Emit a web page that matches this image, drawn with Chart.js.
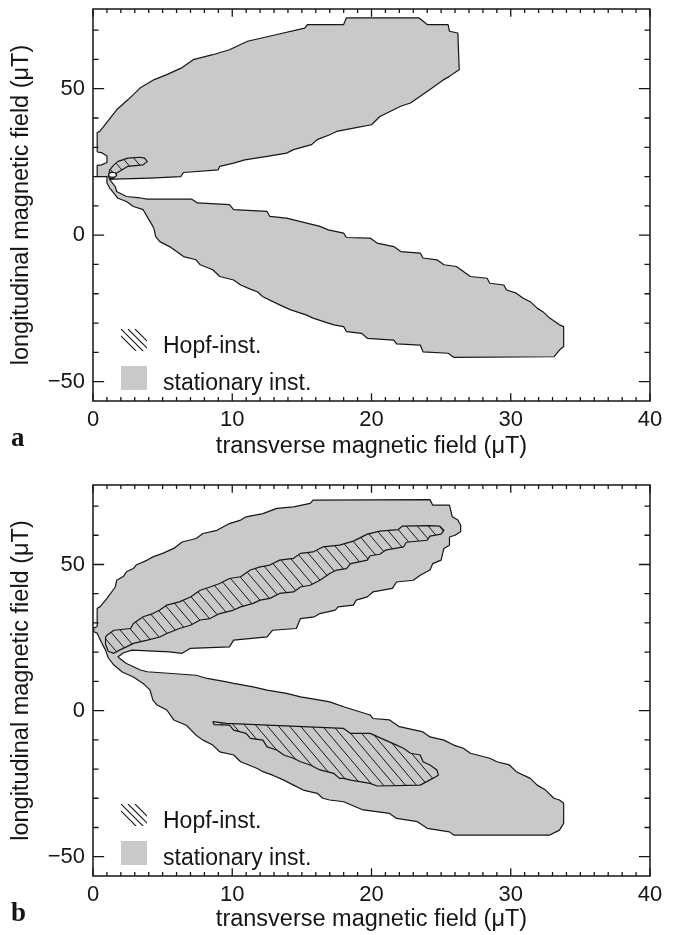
<!DOCTYPE html>
<html>
<head>
<meta charset="utf-8">
<script src="https://cdn.jsdelivr.net/npm/chart.js@4.4.1/dist/chart.umd.min.js"></script>
<style>
  html, body { margin: 0; padding: 0; background: #fff; overflow: hidden; }
  #wrap { position: relative; width: 677px; height: 935px; }
  canvas { position: absolute; left: 0; }
  #panelA { top: 0; }
  #panelB { top: 462px; }
</style>
</head>
<body>
<div id="wrap">
  <canvas id="panelA" width="677" height="462"></canvas>
  <canvas id="panelB" width="677" height="473"></canvas>
</div>
<script>
// axes
const xTicks = [0, 10, 20, 30, 40];
const yTicks = [-50, 0, 50];
const xRange = [0, 40];
const yRange = [-56.6, 77.2];
const xMinorStep = 1;
const yMinorStep = 10;

const xTitle = 'transverse magnetic field (μT)';
const yTitle = 'longitudinal magnetic field (μT)';
const legendLabels = ['Hopf-inst.', 'stationary inst.'];

// panel a : [transverse, longitudinal] outlines
const stationaryA = [
  [0.3,28.4],[0.3,35.0],[0.5,35.5],[1.7,42.8],[2.5,46.2],[3.4,50.3],[4.4,53.1],[5.3,54.8],[6.4,57.2],[7.2,59.9],
  [8.6,61.6],[9.8,63.3],[11.1,66.2],[13.2,68.5],[15.2,70.7],[15.4,71.9],[18.0,71.9],[18.2,74.2],[23.4,74.2],[24.0,71.9],
  [25.5,71.9],[25.6,69.6],[26.2,69.0],[26.3,56.5],[26.1,55.9],[25.6,54.2],[25.2,53.1],[24.2,49.7],[23.5,47.4],[22.8,45.1],
  [22.1,44.0],[20.6,40.5],[20.0,37.7],[18.8,36.6],[17.5,35.4],[17.0,34.3],[16.1,32.6],[15.7,30.9],[14.4,29.2],[13.9,28.0],
  [12.5,26.9],[10.9,25.7],[10.1,24.6],[9.1,23.5],[9.0,22.3],[6.5,21.4],[6.3,20.0],[4.1,19.5],[1.5,19.1],[1.2,19.0],
  [1.6,16.6],[1.7,14.9],[1.9,14.4],[2.4,13.2],[3.4,12.7],[3.9,12.3],[7.1,12.3],[7.5,11.0],[9.8,10.4],[10.1,8.7],
  [12.5,8.1],[12.7,6.4],[13.9,5.8],[16.3,3.0],[16.9,1.8],[18.0,0.7],[18.2,-0.8],[19.9,-1.0],[20.4,-2.7],[21.6,-3.9],
  [22.1,-5.6],[23.5,-6.1],[23.7,-7.8],[24.7,-8.4],[25.2,-10.1],[26.1,-10.7],[26.6,-12.4],[27.1,-14.1],[28.3,-14.7],[28.5,-16.4],
  [29.5,-17.0],[29.7,-18.7],[30.4,-19.8],[30.9,-21.5],[31.4,-22.7],[31.9,-24.9],[32.3,-26.1],[32.8,-28.3],[33.5,-30.6],[33.8,-31.2],
  [33.8,-38.0],[33.5,-39.2],[33.1,-41.5],[25.9,-41.7],[25.5,-40.3],[23.7,-39.8],[23.5,-37.5],[21.8,-37.1],[21.6,-35.8],[19.7,-35.2],
  [19.3,-33.5],[18.2,-32.9],[18.0,-31.2],[17.3,-30.6],[16.9,-30.0],[15.8,-28.3],[15.3,-27.2],[14.2,-25.5],[13.4,-23.8],[12.2,-21.0],
  [11.8,-19.3],[11.3,-18.4],[10.6,-17.0],[10.1,-15.3],[9.1,-14.1],[8.6,-11.8],[7.7,-10.1],[7.4,-8.4],[6.5,-7.3],[5.5,-3.9],
  [4.8,-2.2],[4.5,-0.5],[4.4,1.8],[4.3,3.0],[3.6,8.7],[2.9,9.8],[2.4,11.5],[1.8,12.6],[1.3,15.5],[1.2,16.1],
  [1.0,17.8],[1.0,20.0],[0.3,20.0],[0.3,23.8],[0.6,24.0],[1.0,24.8],[1.0,27.0],[0.6,28.2]
];
const hopfA = [
  [1.1,20.0],[1.2,22.3],[1.5,24.0],[1.8,25.2],[2.5,26.3],[3.4,26.6],[3.7,26.3],[3.9,25.2],[3.6,24.0],[2.5,23.5],
  [2.1,22.3],[1.7,21.2],[1.5,19.5],[1.2,19.3]
];
const holeA = [[1.1,20.6],[1.3,21.5],[1.6,21.3],[1.7,20.4],[1.5,19.7],[1.2,19.9]];

// panel b
const stationaryB = [
  [0.3,28.7],[0.3,35.0],[0.5,35.5],[1.0,38.4],[1.6,42.3],[1.7,44.6],[2.2,46.0],[2.4,47.5],[2.9,48.6],[3.1,49.8],
  [3.9,51.5],[4.3,52.6],[5.0,53.8],[5.8,55.5],[6.4,57.7],[7.4,58.9],[7.9,60.6],[8.9,61.7],[9.8,64.0],[10.6,65.2],
  [11.0,66.3],[12.2,67.4],[13.2,69.2],[14.4,69.7],[15.6,70.9],[15.8,72.0],[24.2,72.2],[24.4,70.3],[25.6,70.3],[25.8,66.3],
  [26.2,65.2],[26.4,63.4],[26.4,61.2],[26.0,60.0],[25.6,59.4],[25.6,56.6],[25.2,55.5],[25.0,51.5],[24.4,50.3],[24.2,48.1],
  [23.5,46.3],[23.0,44.6],[21.8,44.0],[21.5,41.8],[20.1,40.6],[19.7,38.9],[18.9,37.8],[18.7,36.1],[17.6,35.5],[17.4,34.4],
  [16.3,33.2],[15.9,32.1],[14.9,31.5],[14.6,28.1],[12.9,27.5],[12.5,25.2],[10.1,24.1],[9.8,21.8],[7.0,21.3],[6.4,19.6],
  [5.5,20.1],[2.8,20.7],[2.2,19.8],[1.8,18.4],[1.9,17.9],[2.4,16.1],[3.4,13.9],[3.9,13.3],[7.4,12.1],[8.2,11.0],
  [9.6,9.8],[10.1,9.3],[11.5,8.1],[12.5,7.0],[13.9,5.9],[14.9,4.7],[16.3,3.6],[17.0,3.0],[18.0,1.3],[19.9,-1.5],
  [20.1,-2.7],[21.3,-3.2],[22.0,-5.5],[23.7,-7.3],[24.2,-9.0],[25.2,-10.1],[25.9,-11.8],[26.6,-12.9],[27.1,-14.6],[28.5,-16.3],
  [29.0,-17.5],[29.9,-18.6],[30.4,-20.9],[31.4,-23.2],[31.9,-25.5],[32.5,-27.2],[33.1,-30.0],[33.5,-30.6],[33.8,-31.7],[33.8,-38.6],
  [33.5,-40.9],[32.8,-42.6],[25.9,-42.6],[25.6,-41.5],[24.0,-40.3],[23.3,-38.0],[21.8,-36.9],[21.3,-35.2],[19.4,-34.0],[18.0,-31.2],
  [17.0,-30.6],[16.5,-30.0],[16.1,-28.3],[15.1,-27.2],[14.4,-25.5],[13.7,-23.8],[12.9,-22.1],[12.2,-20.9],[11.8,-19.8],[10.6,-17.5],
  [10.1,-15.2],[9.1,-14.1],[8.6,-11.8],[7.9,-10.1],[7.4,-8.4],[6.7,-5.0],[5.8,-3.2],[5.3,0.2],[4.6,1.9],[4.3,3.6],
  [4.1,7.0],[3.6,9.3],[2.9,11.5],[2.1,13.2],[1.5,15.6],[1.1,18.0],[0.9,20.7],[0.6,23.4],[0.3,26.5],[0.05,27.0],
  [0.05,28.3]
];
const hopfB1 = [
  [1.0,25.8],[1.5,27.5],[2.7,28.1],[2.9,29.8],[3.6,32.1],[4.3,33.2],[4.8,34.4],[5.3,36.1],[6.2,37.2],[7.0,38.9],
  [7.7,41.2],[8.4,42.3],[9.1,43.5],[9.8,45.2],[10.6,45.8],[11.3,48.1],[12.0,49.2],[12.7,49.8],[13.4,51.5],[14.4,52.1],
  [14.9,53.8],[15.8,54.3],[16.5,56.0],[17.7,56.6],[18.7,58.0],[19.7,60.4],[20.6,61.4],[21.9,61.9],[22.2,63.1],[24.2,63.3],
  [24.9,63.1],[25.2,61.7],[25.0,60.4],[24.2,59.7],[24.0,58.3],[22.5,57.6],[22.3,56.0],[21.0,54.9],[20.6,53.5],[19.9,53.0],
  [19.7,51.5],[18.5,50.3],[18.2,48.6],[17.5,48.1],[17.0,46.9],[16.3,44.6],[15.6,42.9],[14.9,42.3],[14.4,40.6],[13.4,40.1],
  [12.7,38.4],[12.0,37.8],[11.5,36.7],[10.6,35.5],[10.1,34.4],[9.1,33.2],[8.4,31.5],[7.7,31.0],[7.0,29.2],[6.2,28.1],
  [5.3,26.4],[4.8,25.2],[3.9,24.1],[2.9,23.0],[2.4,21.8],[1.9,20.7],[1.5,19.6],[1.1,20.3],[0.9,22.7],[0.9,25.1]
];
const hopfB2 = [
  [8.6,-3.8],[9.6,-4.4],[18.0,-6.1],[18.5,-7.8],[19.9,-7.8],[21.8,-11.8],[22.3,-12.9],[22.8,-14.6],[23.5,-15.2],[23.7,-17.5],
  [24.2,-18.6],[24.7,-20.3],[24.8,-22.1],[24.4,-23.2],[23.5,-25.5],[20.4,-25.8],[19.9,-24.9],[18.5,-23.8],[18.0,-23.2],[17.7,-23.2],
  [17.3,-21.5],[16.3,-20.3],[15.6,-18.6],[14.9,-17.5],[14.4,-16.3],[13.7,-15.2],[13.2,-13.5],[12.5,-12.4],[12.2,-10.1],[11.3,-9.5],
  [11.0,-7.8],[10.1,-6.7],[9.8,-5.0],[8.7,-4.8]
];

const INK = '#161616';
const GRAY = '#c8c9cb';
const FONT = '"Liberation Sans", Arial, Helvetica, sans-serif';

function hatch(ctx) {
  const w = 11, h = 13;
  const tile = document.createElement('canvas');
  tile.width = w;
  tile.height = h;
  const g = tile.getContext('2d');
  g.strokeStyle = INK;
  g.lineWidth = 1;
  g.beginPath();
  g.moveTo(0, 0); g.lineTo(w, h);
  g.moveTo(-w, 0); g.lineTo(0, h);
  g.moveTo(w, 0); g.lineTo(2 * w, h);
  g.stroke();
  return ctx.createPattern(tile, 'repeat');
}

function region(points, label, fill, order) {
  const data = points.map(([x, y]) => ({ x, y }));
  data.push({ x: points[0][0], y: points[0][1] });
  return {
    label, data, order,
    showLine: true,
    fill: 'shape',
    backgroundColor: fill,
    borderColor: INK,
    borderWidth: 1.2,
    borderJoinStyle: 'round',
    pointRadius: 0,
    pointHoverRadius: 0,
    tension: 0
  };
}

// frame with inward ticks, panel letter, legend
const framePlugin = {
  id: 'frame',
  afterDraw(chart, args, opts) {
    const { ctx, chartArea: a, scales: { x, y } } = chart;
    ctx.save();
    ctx.strokeStyle = INK;
    ctx.lineWidth = 1.5;
    ctx.strokeRect(a.left, a.top, a.right - a.left, a.bottom - a.top);

    ctx.lineWidth = 1.3;
    ctx.beginPath();
    const xl = (a.bottom - a.top) * 0.02;
    const yl = (a.right - a.left) * 0.02;
    for (let v = xRange[0]; v <= xRange[1] + 1e-9; v += xMinorStep) {
      const px = x.getPixelForValue(v);
      const len = xTicks.includes(v) ? xl : xl / 2;
      ctx.moveTo(px, a.bottom); ctx.lineTo(px, a.bottom - len);
      ctx.moveTo(px, a.top); ctx.lineTo(px, a.top + len);
    }
    for (let v = Math.ceil(yRange[0] / yMinorStep) * yMinorStep; v <= yRange[1]; v += yMinorStep) {
      const py = y.getPixelForValue(v);
      const len = yTicks.includes(v) ? yl : yl / 2;
      ctx.moveTo(a.left, py); ctx.lineTo(a.left + len, py);
      ctx.moveTo(a.right, py); ctx.lineTo(a.right - len, py);
    }
    ctx.stroke();

    // panel letter
    ctx.fillStyle = INK;
    ctx.font = 'bold 27px "Liberation Serif", "Times New Roman", serif';
    ctx.textBaseline = 'alphabetic';
    ctx.textAlign = 'left';
    ctx.fillText(opts.letter, 11, a.bottom + 45);

    // legend
    const bx = a.left + 28;
    const hopfSet = chart.data.datasets.find(d => d.label === legendLabels[0]);
    const statSet = chart.data.datasets.find(d => d.label === legendLabels[1]);
    const hy = a.bottom - 72;
    ctx.save();
    ctx.beginPath();
    ctx.rect(bx, hy, 26, 22);
    ctx.clip();
    ctx.strokeStyle = hopfSet.borderColor;
    ctx.lineWidth = 1.1;
    ctx.beginPath();
    for (const c of [-7, 0, 7, 14]) {
      ctx.moveTo(bx + c, hy);
      ctx.lineTo(bx + c + 30, hy + 30);
    }
    ctx.stroke();
    ctx.restore();
    ctx.fillStyle = statSet.backgroundColor;
    ctx.fillRect(bx, a.bottom - 35, 26, 24);

    ctx.fillStyle = INK;
    ctx.font = '23px ' + FONT;
    ctx.fillText(legendLabels[0], a.left + 70, a.bottom - 48.5);
    ctx.fillText(legendLabels[1], a.left + 70, a.bottom - 11);
    ctx.restore();
  }
};

function makePanel(canvas, letter, padTop, xAxisHeight, datasets) {
  return new Chart(canvas, {
    type: 'scatter',
    data: { datasets },
    options: {
      responsive: false,
      animation: false,
      events: [],
      layout: { padding: { top: padTop, right: 27, bottom: 0, left: 0 } },
      plugins: {
        legend: { display: false },
        tooltip: { enabled: false },
        frame: { letter }
      },
      scales: {
        x: {
          type: 'linear',
          min: xRange[0],
          max: xRange[1],
          afterBuildTicks: s => { s.ticks = xTicks.map(value => ({ value })); },
          afterFit: s => { s.height = xAxisHeight; s.paddingLeft = 0; s.paddingRight = 0; },
          grid: { display: false, drawTicks: false },
          border: { display: false },
          ticks: { autoSkip: false, maxRotation: 0, padding: 6, color: INK, font: { family: FONT, size: 22 } },
          title: { display: true, text: xTitle, color: INK, font: { family: FONT, size: 23.5 }, padding: { top: 0, bottom: 1 } }
        },
        y: {
          type: 'linear',
          min: yRange[0],
          max: yRange[1],
          afterBuildTicks: s => { s.ticks = yTicks.map(value => ({ value })); },
          afterFit: s => { s.width = 93; s.paddingTop = 0; s.paddingBottom = 0; },
          grid: { display: false, drawTicks: false },
          border: { display: false },
          ticks: {
            autoSkip: false, padding: 8, color: INK, font: { family: FONT, size: 22 },
            callback: v => (v < 0 ? '\u2212' + Math.abs(v) : String(v))
          },
          title: { display: true, text: yTitle, color: INK, font: { family: FONT, size: 23.5 }, padding: { top: 7, bottom: 0 } }
        }
      }
    },
    plugins: [framePlugin]
  });
}

const canvasA = document.getElementById('panelA');
const canvasB = document.getElementById('panelB');

makePanel(canvasA, 'a', 9, 61, [
  region(stationaryA, legendLabels[1], GRAY, 3),
  region(hopfA, legendLabels[0], hatch(canvasA.getContext('2d')), 2),
  region(holeA, 'gap', '#ffffff', 1)
]);

makePanel(canvasB, 'b', 23, 59, [
  region(stationaryB, legendLabels[1], GRAY, 3),
  region(hopfB1, legendLabels[0], hatch(canvasB.getContext('2d')), 2),
  region(hopfB2, legendLabels[0] + ' ', hatch(canvasB.getContext('2d')), 2)
]);
</script>
</body>
</html>
